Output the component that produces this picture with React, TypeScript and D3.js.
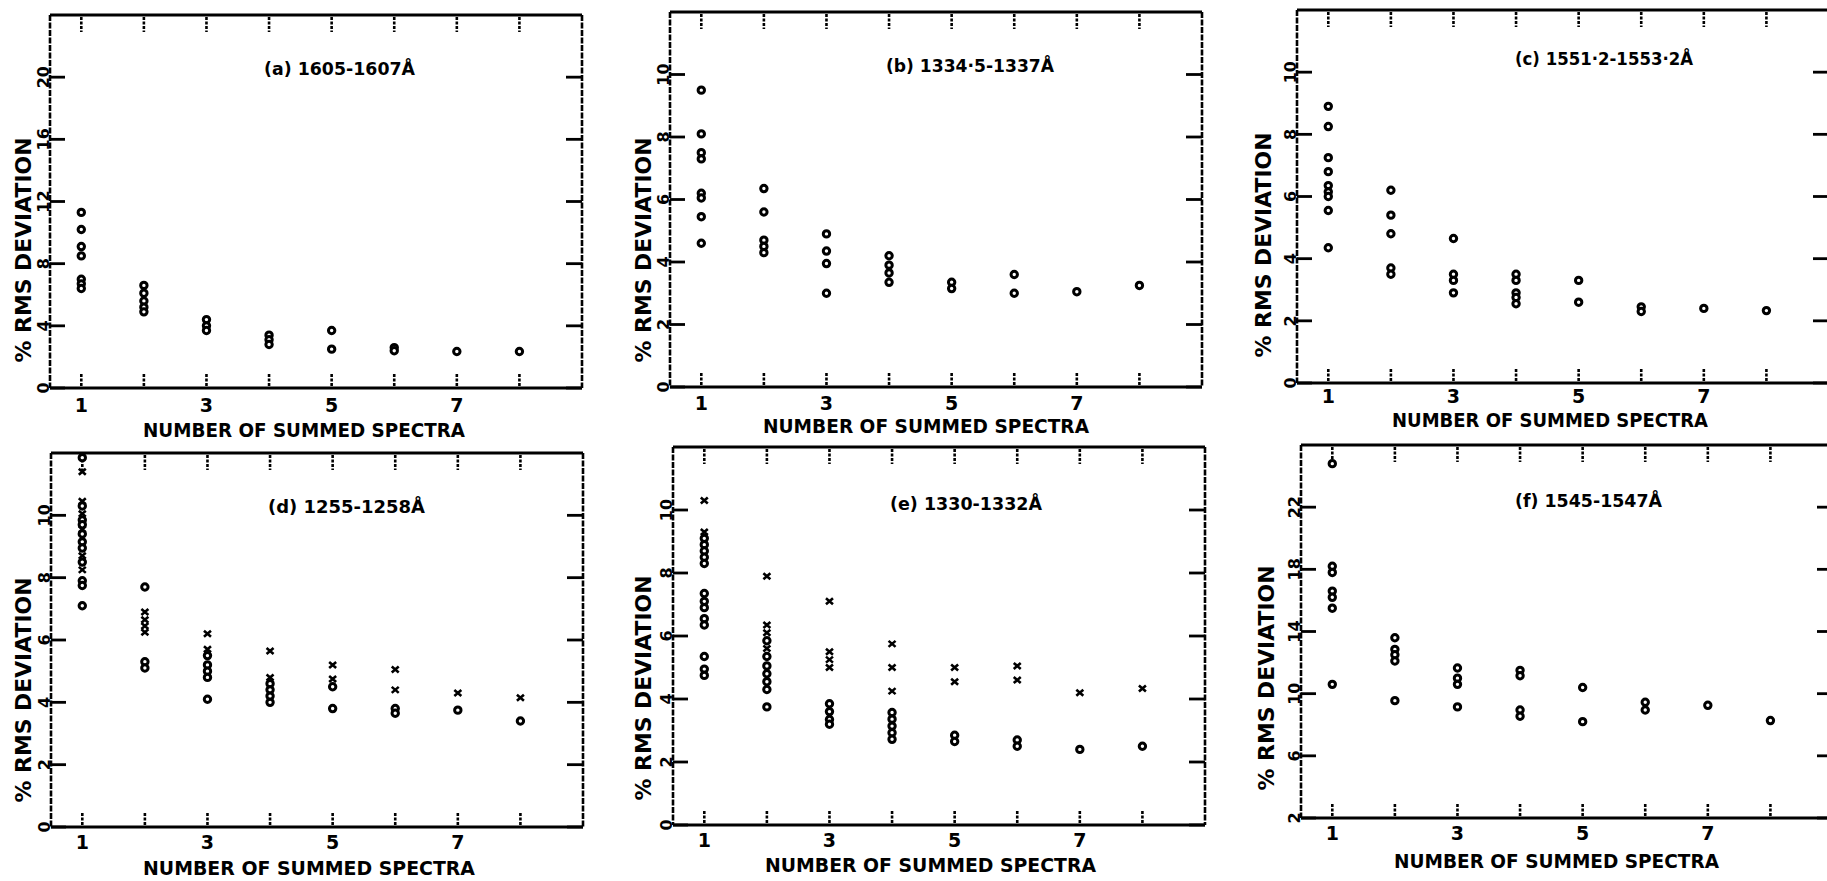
import React from 'react';
import { scaleLinear } from 'd3';

// x positions (number of summed spectra)
const summedSpectra = [1, 2, 3, 4, 5, 6, 7, 8];
const xTickLabels = [1, 3, 5, 7];

// y tick labels per panel
const ticksA = [0, 4, 8, 12, 16, 20];
const ticksSmall = [0, 2, 4, 6, 8, 10];
const ticksF = [2, 6, 10, 14, 18, 22];

const titles = [
  '(a) 1605-1607Å',
  '(b) 1334·5-1337Å',
  '(c) 1551·2-1553·2Å',
  '(d) 1255-1258Å',
  '(e) 1330-1332Å',
  '(f) 1545-1547Å',
];

// % rms deviation, one inner array per number of summed spectra (o markers)
const circlesA = [
  [11.3, 10.2, 9.1, 8.5, 7.0, 6.7, 6.4],
  [6.6, 6.1, 5.6, 5.2, 4.9],
  [4.4, 4.0, 3.7],
  [3.4, 3.1, 2.8],
  [3.7, 2.5],
  [2.6, 2.4],
  [2.35],
  [2.35],
];
const circlesB = [
  [9.5, 8.1, 7.5, 7.3, 6.2, 6.05, 5.45, 4.6],
  [6.35, 5.6, 4.7, 4.5, 4.3],
  [4.9, 4.35, 3.95, 3.0],
  [4.2, 3.9, 3.65, 3.35],
  [3.35, 3.15],
  [3.6, 3.0],
  [3.05],
  [3.25],
];
const circlesC = [
  [8.9, 8.25, 7.25, 6.8, 6.35, 6.15, 6.0, 5.55, 4.35],
  [6.2, 5.4, 4.8, 3.7, 3.5],
  [4.65, 3.5, 3.3, 2.9],
  [3.5, 3.3, 2.9, 2.75, 2.55],
  [3.3, 2.6],
  [2.45, 2.3],
  [2.4],
  [2.33],
];
const circlesD = [
  [11.85, 10.3, 9.85, 9.7, 9.4, 9.15, 8.95, 8.5, 7.9, 7.75, 7.1],
  [7.7, 5.3, 5.1],
  [5.5, 5.2, 5.0, 4.8, 4.1],
  [4.6, 4.4, 4.2, 4.0],
  [4.5, 3.8],
  [3.8, 3.65],
  [3.75],
  [3.4],
];
const crossesD = [
  [11.4, 10.45, 10.05, 9.55, 8.7, 8.25],
  [6.9, 6.65, 6.45, 6.25],
  [6.2, 5.7],
  [5.65, 4.8],
  [5.2, 4.75],
  [5.05, 4.4],
  [4.3],
  [4.15],
];
const circlesE = [
  [9.1, 8.9, 8.7, 8.5, 8.3, 7.35, 7.1, 6.9, 6.55, 6.35, 5.35, 4.95, 4.75],
  [5.85, 5.35, 5.05, 4.8, 4.55, 4.3, 3.75],
  [3.85, 3.6, 3.35, 3.2],
  [3.57, 3.36, 3.14, 2.93, 2.72],
  [2.85, 2.65],
  [2.7, 2.5],
  [2.4],
  [2.5],
];
const crossesE = [
  [10.3, 9.3],
  [7.9, 6.35, 6.1, 5.6],
  [7.1, 5.5, 5.25, 5.0],
  [5.75, 5.0, 4.25],
  [5.0, 4.55],
  [5.05, 4.6],
  [4.2],
  [4.33],
];
const circlesF = [
  [24.8, 18.2, 17.8, 16.6, 16.2, 15.5, 10.6],
  [13.6, 12.85, 12.5, 12.1, 9.55],
  [11.65, 11.0, 10.6, 9.15],
  [11.5, 11.15, 8.95, 8.55],
  [10.4, 8.2],
  [9.45, 8.95],
  [9.25],
  [8.27],
];

const panels = [
  { left: 50, top: 15, bottom: 388, yDomain: [0, 24], ticks: ticksA, circles: circlesA, crosses: [], title: titles[0],
    titleX: 264, titleY: 75, titleW: 151, xlabX: 143, xlabY: 437, xlabW: 322, ytitX: 31, ytitY: 250, tickLabDy: 24 },
  { left: 670, top: 12, bottom: 387, yDomain: [0, 12], ticks: ticksSmall, circles: circlesB, crosses: [], title: titles[1],
    titleX: 886, titleY: 72, titleW: 168, xlabX: 763, xlabY: 433, xlabW: 326, ytitX: 651, ytitY: 250, tickLabDy: 23 },
  { left: 1297, top: 10, bottom: 383, yDomain: [0, 12], ticks: ticksSmall, circles: circlesC, crosses: [], title: titles[2],
    titleX: 1515, titleY: 65, titleW: 178, xlabX: 1392, xlabY: 427, xlabW: 316, ytitX: 1271, ytitY: 245, tickLabDy: 20 },
  { left: 51, top: 453, bottom: 827, yDomain: [0, 12], ticks: ticksSmall, circles: circlesD, crosses: crossesD, title: titles[3],
    titleX: 268, titleY: 513, titleW: 157, xlabX: 143, xlabY: 875, xlabW: 332, ytitX: 31, ytitY: 690, tickLabDy: 22 },
  { left: 673, top: 447, bottom: 825, yDomain: [0, 12], ticks: ticksSmall, circles: circlesE, crosses: crossesE, title: titles[4],
    titleX: 890, titleY: 510, titleW: 152, xlabX: 765, xlabY: 872, xlabW: 331, ytitX: 651, ytitY: 688, tickLabDy: 22 },
  { left: 1301, top: 445, bottom: 818, yDomain: [2, 26], ticks: ticksF, circles: circlesF, crosses: [], title: titles[5],
    titleX: 1515, titleY: 507, titleW: 147, xlabX: 1394, xlabY: 868, xlabW: 325, ytitX: 1274, ytitY: 678, tickLabDy: 22 },
];

const FONT = "'DejaVu Sans', 'Liberation Sans', sans-serif";
const PANEL_W = 532;

function Panel({ p }) {
  const right = p.left + PANEL_W;
  const x = scaleLinear().domain([0.5, 9]).range([p.left, right]);
  const y = scaleLinear().domain(p.yDomain).range([p.bottom, p.top]);

  return (
    <g>
      {/* frame */}
      <line x1={p.left} x2={right} y1={p.top} y2={p.top} stroke="#000" strokeWidth={3} />
      <line x1={p.left} x2={right} y1={p.bottom} y2={p.bottom} stroke="#000" strokeWidth={3} />
      <line x1={p.left} x2={p.left} y1={p.top} y2={p.bottom} stroke="#000" strokeWidth={2.6} strokeDasharray="6 1.5" />
      <line x1={right} x2={right} y1={p.top} y2={p.bottom} stroke="#000" strokeWidth={2.6} strokeDasharray="6 1.5" />

      {/* x ticks, top and bottom */}
      {summedSpectra.map((d) => (
        <g key={'xt' + d}>
          <line x1={x(d)} x2={x(d)} y1={p.top + 2} y2={p.top + 17} stroke="#000" strokeWidth={2.6} strokeDasharray="3 1.5" />
          <line x1={x(d)} x2={x(d)} y1={p.bottom - 14} y2={p.bottom} stroke="#000" strokeWidth={2.6} strokeDasharray="3 1.5" />
        </g>
      ))}
      {xTickLabels.map((d) => (
        <text key={'xl' + d} x={x(d)} y={p.bottom + p.tickLabDy} textAnchor="middle" fontFamily={FONT}
          fontWeight="bold" fontSize={19}>{d}</text>
      ))}

      {/* y ticks, left and right */}
      {p.ticks.map((t) => (
        <g key={'yt' + t}>
          <line x1={p.left} x2={p.left + 15} y1={y(t)} y2={y(t)} stroke="#000" strokeWidth={2.8} />
          <line x1={right - 16} x2={right} y1={y(t)} y2={y(t)} stroke="#000" strokeWidth={2.8} />
          <text transform={`translate(${p.left - 1},${y(t)}) rotate(-90)`} textAnchor="middle"
            fontFamily={FONT} fontWeight="bold" fontSize={16}>{t}</text>
        </g>
      ))}

      {/* titles */}
      <text x={p.titleX} y={p.titleY} fontFamily={FONT} fontWeight="bold" fontSize={18}
        textLength={p.titleW} lengthAdjust="spacingAndGlyphs">{p.title}</text>
      <text x={p.xlabX} y={p.xlabY} fontFamily={FONT} fontWeight="bold" fontSize={20}
        textLength={p.xlabW} lengthAdjust="spacingAndGlyphs">NUMBER OF SUMMED SPECTRA</text>
      <text transform={`translate(${p.ytitX},${p.ytitY}) rotate(-90)`} textAnchor="middle" fontFamily={FONT}
        fontWeight="bold" fontSize={21} textLength={225} lengthAdjust="spacingAndGlyphs">% RMS DEVIATION</text>

      {/* markers */}
      {p.circles.map((col, i) =>
        col.map((v, j) => (
          <circle key={`c${i}-${j}`} cx={x(summedSpectra[i])} cy={y(v)} r={3.2}
            fill="#fff" stroke="#000" strokeWidth={3} />
        ))
      )}
      {p.crosses.map((col, i) =>
        col.map((v, j) => (
          <path key={`x${i}-${j}`} transform={`translate(${x(summedSpectra[i])},${y(v)})`}
            d="M-3.5,-3L3.5,3M-3.5,3L3.5,-3" stroke="#000" strokeWidth={2.6} fill="none" />
        ))
      )}
    </g>
  );
}

export default function App() {
  return (
    <svg width={1827} height={881} style={{ position: 'absolute', left: 0, top: 0, background: '#fff' }}>
      <rect width={1827} height={881} fill="#fff" />
      {panels.map((p, i) => (
        <Panel key={i} p={p} />
      ))}
    </svg>
  );
}
